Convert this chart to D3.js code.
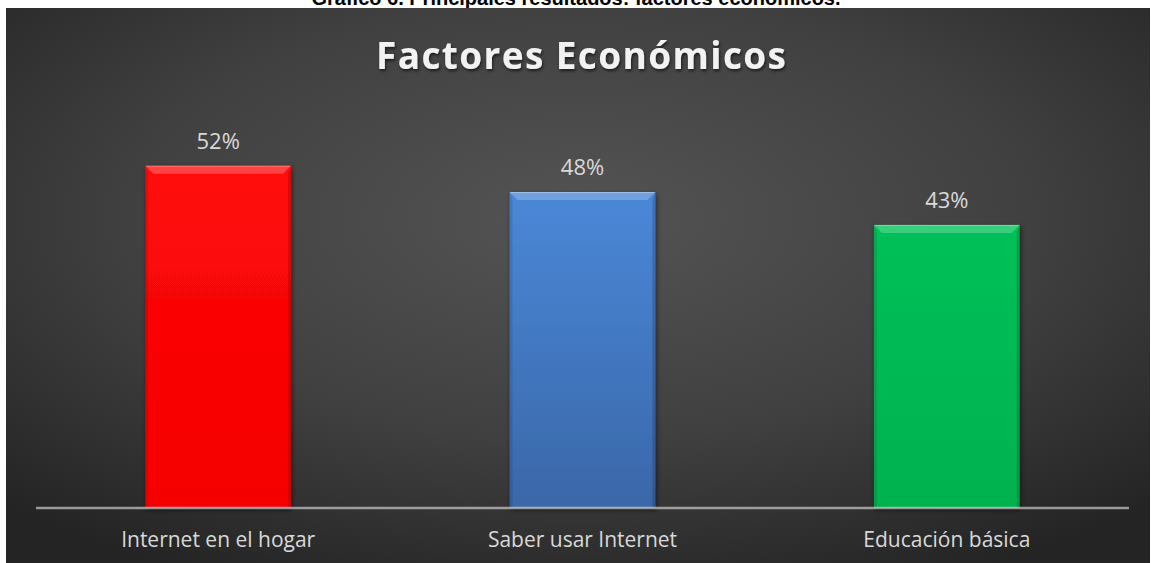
<!DOCTYPE html>
<html>
<head>
<meta charset="utf-8">
<script src="https://cdn.jsdelivr.net/npm/d3@7"></script>
<style>
  html, body { margin: 0; padding: 0; background: #fff; }
  svg { display: block; }
</style>
</head>
<body>
<script>
const categories = ["Internet en el hogar", "Saber usar Internet", "Educación básica"];
const values = [0.52, 0.48, 0.43];
const pageTitle = "Gráfico 6. Principales resultados: factores económicos.";
const chartTitle = "Factores Económicos";

// top / bottom shade of each bar
const palette = [
  ["#ff0a0a", "#f50000"],
  ["#4a88d8", "#3a67a8"],
  ["#06c058", "#02b24f"]
];

const width = 1151, height = 563;
const panel = {x: 6, y: 8, w: 1144, h: 555};
const margin = {top: 113, right: 22, bottom: 55, left: 36};

const svg = d3.select("body").append("svg")
    .attr("width", width)
    .attr("height", height)
    .attr("viewBox", [0, 0, width, height]);

const defs = svg.append("defs");

const bg = defs.append("radialGradient")
    .attr("id", "bg")
    .attr("cx", 0.5).attr("cy", 0.38).attr("r", 0.72)
    .attr("fx", 0.5).attr("fy", 0.38);
bg.append("stop").attr("offset", 0).attr("stop-color", "#545454");
bg.append("stop").attr("offset", 0.55).attr("stop-color", "#404040");
bg.append("stop").attr("offset", 1).attr("stop-color", "#242424");

palette.forEach((c, i) => {
  const g = defs.append("linearGradient")
      .attr("id", "bar" + i)
      .attr("x1", 0).attr("y1", 0).attr("x2", 0).attr("y2", 1);
  g.append("stop").attr("offset", 0).attr("stop-color", c[0]);
  g.append("stop").attr("offset", 1).attr("stop-color", c[1]);
});

const shadow = defs.append("filter").attr("id", "shadow")
    .attr("x", "-20%").attr("y", "-20%").attr("width", "140%").attr("height", "140%");
shadow.append("feDropShadow")
    .attr("dx", 1).attr("dy", 2).attr("stdDeviation", 2.5)
    .attr("flood-color", "#000").attr("flood-opacity", 0.55);

const titleShadow = defs.append("filter").attr("id", "tshadow")
    .attr("x", "-10%").attr("y", "-30%").attr("width", "120%").attr("height", "160%");
titleShadow.append("feDropShadow")
    .attr("dx", 1).attr("dy", 2).attr("stdDeviation", 1.5)
    .attr("flood-color", "#000").attr("flood-opacity", 0.6);

// caption of the document, mostly hidden behind the chart
svg.append("text")
    .attr("x", 576)
    .attr("y", 5)
    .attr("text-anchor", "middle")
    .attr("font-family", "Liberation Sans, Arial, sans-serif")
    .attr("font-weight", "bold")
    .attr("font-size", 20)
    .attr("fill", "#000")
    .text(pageTitle);

svg.append("rect")
    .attr("x", panel.x).attr("y", panel.y)
    .attr("width", panel.w).attr("height", panel.h)
    .attr("fill", "url(#bg)");

svg.append("text")
    .attr("x", 581)
    .attr("y", 69)
    .attr("text-anchor", "middle")
    .attr("font-family", "Open Sans, sans-serif")
    .attr("font-weight", "bold")
    .attr("font-size", 37)
    .attr("textLength", 410)
    .attr("lengthAdjust", "spacing")
    .attr("fill", "#f2f2f2")
    .attr("filter", "url(#tshadow)")
    .text(chartTitle);

const x = d3.scaleBand()
    .domain(categories)
    .range([margin.left, width - margin.right])
    .paddingInner(0.6)
    .paddingOuter(0.3);

const y = d3.scaleLinear()
    .domain([0, 0.6])
    .range([height - margin.bottom, margin.top]);

const data = categories.map((c, i) => ({cat: c, value: values[i], i}));
const bev = 8, side = 3;

const bars = svg.append("g")
  .selectAll("g")
  .data(data)
  .join("g");

bars.append("rect")
    .attr("x", d => x(d.cat))
    .attr("y", d => y(d.value))
    .attr("width", x.bandwidth())
    .attr("height", d => y(0) - y(d.value))
    .attr("fill", d => `url(#bar${d.i})`)
    .attr("filter", "url(#shadow)");

// top bevel
bars.append("polygon")
    .attr("points", d => {
      const x0 = x(d.cat), x1 = x0 + x.bandwidth(), y0 = y(d.value);
      return [[x0, y0], [x1, y0], [x1 - bev, y0 + bev], [x0 + bev, y0 + bev]].join(" ");
    })
    .attr("fill", "#fff")
    .attr("fill-opacity", 0.22);

bars.append("line")
    .attr("x1", d => x(d.cat) + 1)
    .attr("x2", d => x(d.cat) + x.bandwidth() - 1)
    .attr("y1", d => y(d.value) + 0.5)
    .attr("y2", d => y(d.value) + 0.5)
    .attr("stroke", "#fff")
    .attr("stroke-opacity", 0.3);

// side bevels
bars.append("polygon")
    .attr("points", d => {
      const x0 = x(d.cat), y0 = y(d.value), y1 = y(0);
      return [[x0, y0], [x0 + side, y0 + bev], [x0 + side, y1], [x0, y1]].join(" ");
    })
    .attr("fill", "#000")
    .attr("fill-opacity", 0.1);

bars.append("polygon")
    .attr("points", d => {
      const x1 = x(d.cat) + x.bandwidth(), y0 = y(d.value), y1 = y(0);
      return [[x1, y0], [x1 - side, y0 + bev], [x1 - side, y1], [x1, y1]].join(" ");
    })
    .attr("fill", "#000")
    .attr("fill-opacity", 0.16);

// value labels
svg.append("g")
  .selectAll("text")
  .data(data)
  .join("text")
    .attr("x", d => x(d.cat) + x.bandwidth() / 2)
    .attr("y", d => y(d.value) - 17)
    .attr("text-anchor", "middle")
    .attr("font-family", "Open Sans, sans-serif")
    .attr("font-size", 22)
    .attr("fill", "#d9d9d9")
    .text(d => d3.format(".0%")(d.value));

// category axis
svg.append("g")
    .attr("transform", `translate(0,${y(0)})`)
    .call(d3.axisBottom(x).tickSize(0).tickPadding(24))
    .call(g => g.select(".domain")
        .attr("d", `M${margin.left},0H${width - margin.right}`)
        .attr("stroke", "#d9d9d9")
        .attr("stroke-opacity", 0.65)
        .attr("stroke-width", 2.5))
    .call(g => g.selectAll(".tick text")
        .attr("font-family", "Open Sans, sans-serif")
        .attr("font-size", 21)
        .attr("fill", "#d9d9d9"));
</script>
</body>
</html>
